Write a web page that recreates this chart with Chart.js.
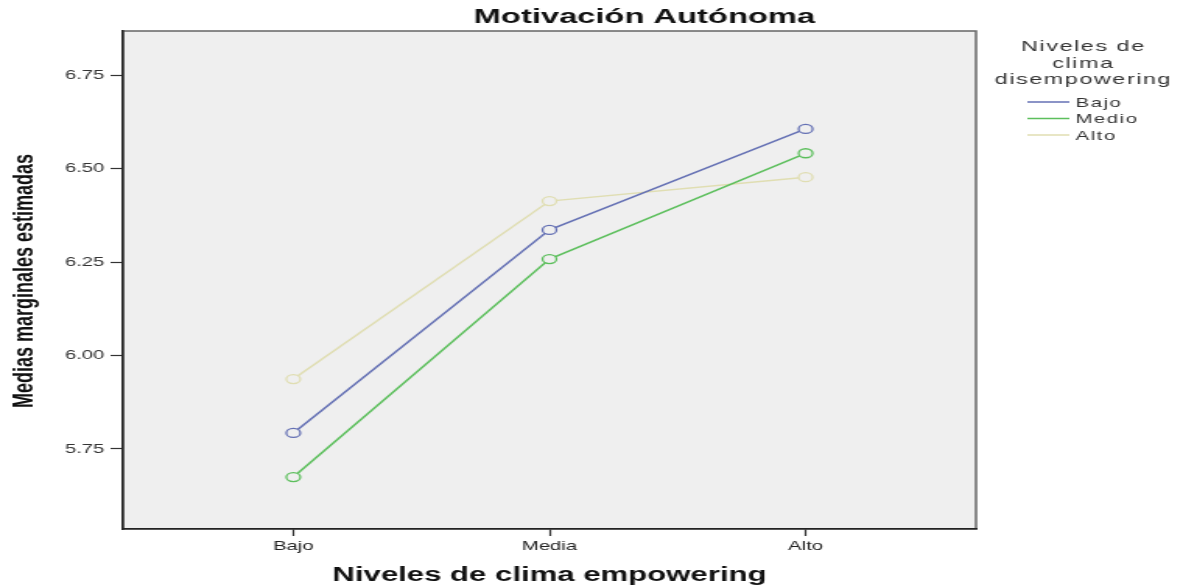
<!DOCTYPE html>
<html>
<head>
<meta charset="utf-8">
<script src="https://cdn.jsdelivr.net/npm/chart.js@4.4.0/dist/chart.umd.min.js"></script>
<style>
  body { margin: 0; background: #fff; }
  /* SPSS export is stretched sideways, so draw narrow and stretch the canvas */
  #chart { display: block; width: 1183px !important; height: 586px !important; }
</style>
</head>
<body>
<canvas id="chart" width="760" height="586" style="width:1183px;height:586px"></canvas>
<script>
const categories = ['Bajo', 'Media', 'Alto'];
const seriesNames = ['Bajo', 'Medio', 'Alto'];
const bajoValues = [5.793, 6.336, 6.606];
const medioValues = [5.675, 6.258, 6.541];
const altoValues = [5.937, 6.413, 6.477];
const yTicks = [5.75, 6.00, 6.25, 6.50, 6.75];
const seriesColors = ['#6470b4', '#5cbf5c', '#e0deb2'];

const FONT = '"Liberation Sans", Arial, sans-serif';
const plotBg = '#efefef';

function makeSet(label, values, color) {
    return {
        label: label,
        data: values.map((v, i) => ({ x: i, y: v })),
        borderColor: color,
        borderWidth: 1.5,
        pointRadius: 4.5,
        pointBorderWidth: 1.3,
        pointBorderColor: color,
        pointBackgroundColor: plotBg,
        tension: 0,
        fill: false
    };
}

// plot background + frame
const frame = {
    id: 'frame',
    beforeDraw(chart) {
        const { ctx, chartArea: a } = chart;
        ctx.save();
        ctx.fillStyle = plotBg;
        ctx.fillRect(a.left, a.top, a.right - a.left, a.bottom - a.top);
        ctx.strokeStyle = '#666';
        ctx.lineWidth = 1.5;
        ctx.strokeRect(a.left, a.top, a.right - a.left, a.bottom - a.top);
        ctx.restore();
    }
};

// titles and the legend block on the right
const texts = {
    id: 'texts',
    afterDraw(chart) {
        const ctx = chart.ctx;
        const a = chart.chartArea;
        ctx.save();
        ctx.fillStyle = '#111';
        ctx.textAlign = 'center';
        ctx.textBaseline = 'middle';

        ctx.font = 'bold 21px ' + FONT;
        ctx.fillText('Motivación Autónoma', 414, 17);

        ctx.font = 'bold 20px ' + FONT;
        ctx.fillText('Niveles de clima empowering', (a.left + a.right) / 2, 575);

        ctx.save();
        ctx.translate(16, 281);
        ctx.rotate(-Math.PI / 2);
        ctx.font = 'bold 18px ' + FONT;
        ctx.fillText('Medias marginales estimadas', 0, 0);
        ctx.restore();

        // legend
        ctx.letterSpacing = '1px';
        ctx.fillStyle = '#333';
        ctx.font = '15px ' + FONT;
        ['Niveles de', 'clima', 'disempowering'].forEach((t, i) => {
            ctx.fillText(t, 696, 47 + i * 16.5);
        });
        ctx.font = '13px ' + FONT;
        ctx.textAlign = 'left';
        chart.data.datasets.forEach((ds, i) => {
            const y = 102 + i * 16.5;
            ctx.strokeStyle = ds.borderColor;
            ctx.lineWidth = 1.5;
            ctx.beginPath();
            ctx.moveTo(660, y);
            ctx.lineTo(687, y);
            ctx.stroke();
            ctx.fillText(ds.label, 691, y + 1);
        });
        ctx.restore();
    }
};

new Chart(document.getElementById('chart'), {
    type: 'line',
    data: {
        datasets: [
            makeSet(seriesNames[0], bajoValues, seriesColors[0]),
            makeSet(seriesNames[1], medioValues, seriesColors[1]),
            makeSet(seriesNames[2], altoValues, seriesColors[2])
        ]
    },
    options: {
        responsive: false,
        animation: false,
        devicePixelRatio: 1,
        layout: { padding: { left: 0, top: 31, right: 133, bottom: 0 } },
        plugins: {
            legend: { display: false },
            tooltip: { enabled: false }
        },
        scales: {
            x: {
                type: 'linear',
                min: -0.665,
                max: 2.665,
                afterBuildTicks: s => { s.ticks = categories.map((c, i) => ({ value: i })); },
                afterFit: s => { s.height = 57; },
                ticks: {
                    callback: v => categories[v] ?? '',
                    color: '#222',
                    font: { family: FONT, size: 13 },
                    padding: 3,
                    maxRotation: 0,
                    autoSkip: false
                },
                grid: { drawOnChartArea: false, tickLength: 7, tickColor: '#333', tickWidth: 1.2 },
                border: { color: '#222', width: 1.5 }
            },
            y: {
                min: 5.536,
                max: 6.868,
                afterBuildTicks: s => { s.ticks = yTicks.map(v => ({ value: v })); },
                afterFit: s => { s.width = 79; },
                ticks: {
                    callback: v => v.toFixed(2),
                    color: '#333',
                    font: { family: FONT, size: 13 },
                    padding: 4
                },
                grid: { drawOnChartArea: false, tickLength: 8, tickColor: '#333', tickWidth: 1.2 },
                border: { color: '#222', width: 1.5 }
            }
        }
    },
    plugins: [frame, texts]
});
</script>
</body>
</html>
